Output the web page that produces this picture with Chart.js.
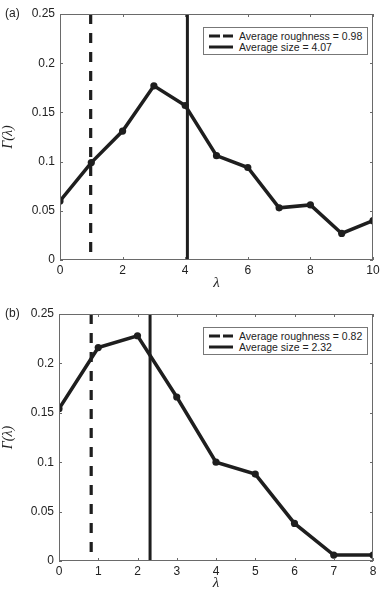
<!DOCTYPE html>
<html>
<head>
<meta charset="utf-8">
<script src="https://cdn.jsdelivr.net/npm/chart.js@4/dist/chart.umd.min.js"></script>
<style>
  body { margin: 0; background: #fff; font-family: "Liberation Sans", Arial, sans-serif; }
  .panel { position: relative; width: 388px; height: 300px; }
  .tag { position: absolute; left: 5px; top: 6px; font-size: 12px; color: #222; }
  .legend {
    position: absolute; left: 203px; top: 27px; width: 163px; height: 26px;
    border: 1px solid #777; background: #fff; font-size: 10.5px; color: #222;
  }
  .legend .row { position: absolute; left: 4px; height: 12px; line-height: 12px; }
  .legend svg { position: absolute; left: 0; top: 3px; }
  .legend span { position: absolute; left: 31px; white-space: nowrap; }
</style>
</head>
<body>
<div class="panel">
  <canvas id="chartA" width="388" height="300"></canvas>
  <div class="tag">(a)</div>
  <div class="legend" id="legendA"></div>
</div>
<div class="panel">
  <canvas id="chartB" width="388" height="300"></canvas>
  <div class="tag">(b)</div>
  <div class="legend" id="legendB"></div>
</div>
<script>
// panel (a)
const lambdaA = [0, 1, 2, 3, 4, 5, 6, 7, 8, 9, 10];
const gammaA = [0.060, 0.099, 0.131, 0.177, 0.157, 0.106, 0.094, 0.053, 0.056, 0.027, 0.040];
const roughnessA = 0.98;
const sizeA = 4.07;
const xTicksA = [0, 2, 4, 6, 8, 10];

// panel (b)
const lambdaB = [0, 1, 2, 3, 4, 5, 6, 7, 8];
const gammaB = [0.154, 0.216, 0.228, 0.166, 0.100, 0.088, 0.038, 0.006, 0.006];
const roughnessB = 0.82;
const sizeB = 2.32;
const xTicksB = [0, 1, 2, 3, 4, 5, 6, 7, 8];

const yTicks = [0, 0.05, 0.1, 0.15, 0.2, 0.25];

const ink = "#1e1e1e";
const axisGrey = "#6a6a6a";

// box round the plot and MATLAB style inward ticks
const framePlugin = {
  id: "frame",
  afterDatasetsDraw(chart) {
    const { ctx, chartArea: a, scales } = chart;
    ctx.save();
    ctx.strokeStyle = axisGrey;
    ctx.lineWidth = 1;
    ctx.strokeRect(a.left + 0.5, a.top + 0.5, a.right - a.left - 1, a.bottom - a.top - 1);
    ctx.beginPath();
    scales.x.ticks.forEach((t) => {
      const px = Math.round(scales.x.getPixelForValue(t.value)) + 0.5;
      ctx.moveTo(px, a.bottom); ctx.lineTo(px, a.bottom - 3);
      ctx.moveTo(px, a.top); ctx.lineTo(px, a.top + 3);
    });
    scales.y.ticks.forEach((t) => {
      const py = Math.round(scales.y.getPixelForValue(t.value)) + 0.5;
      ctx.moveTo(a.left, py); ctx.lineTo(a.left + 3, py);
      ctx.moveTo(a.right, py); ctx.lineTo(a.right - 3, py);
    });
    ctx.stroke();
    ctx.restore();
  },
};

function legendHtml(roughness, size) {
  return (
    '<div class="row" style="top:2px"><svg width="26" height="6"><line x1="1" y1="3" x2="25" y2="3" stroke="' + ink + '" stroke-width="3" stroke-dasharray="11,3"/></svg>' +
    "<span>Average roughness = " + roughness.toFixed(2) + "</span></div>" +
    '<div class="row" style="top:13px"><svg width="26" height="6"><line x1="1" y1="3" x2="25" y2="3" stroke="' + ink + '" stroke-width="3"/></svg>' +
    "<span>Average size = " + size.toFixed(2) + "</span></div>"
  );
}

function makeChart(canvasId, lambdas, gammas, roughness, size, xTicks, xAxisHeight, yAxisWidth) {
  const points = lambdas.map((x, i) => ({ x: x, y: gammas[i] }));
  const yMax = yTicks[yTicks.length - 1];

  return new Chart(document.getElementById(canvasId), {
    type: "scatter",
    data: {
      datasets: [
        {
          data: [{ x: roughness, y: yMax }, { x: roughness, y: 0 }],
          showLine: true,
          borderColor: ink,
          borderWidth: 3.2,
          borderDash: [10, 9],
          pointRadius: 0,
        },
        {
          data: [{ x: size, y: yMax }, { x: size, y: 0 }],
          showLine: true,
          borderColor: ink,
          borderWidth: 3,
          pointRadius: 0,
        },
        {
          data: points,
          showLine: true,
          borderColor: ink,
          borderWidth: 3.5,
          pointRadius: 3.6,
          pointBackgroundColor: ink,
          pointBorderColor: ink,
          pointBorderWidth: 0,
        },
      ],
    },
    options: {
      responsive: false,
      animation: false,
      devicePixelRatio: 1,
      layout: { padding: { left: 0, right: 15, top: 14, bottom: 0 } },
      plugins: { legend: { display: false }, tooltip: { enabled: false } },
      scales: {
        x: {
          type: "linear",
          min: xTicks[0],
          max: xTicks[xTicks.length - 1],
          afterBuildTicks: (scale) => {
            scale.ticks = xTicks.map((v) => ({ value: v }));
          },
          afterFit: (scale) => {
            scale.height = xAxisHeight;
          },
          grid: { display: false, drawTicks: false },
          border: { display: false },
          ticks: {
            color: "#222",
            padding: 3,
            font: { family: "Liberation Sans", size: 12 },
            callback: (v) => String(v),
          },
          title: {
            display: true,
            text: "λ",
            color: "#222",
            padding: { top: 0, bottom: 8 },
            font: { family: "Liberation Serif", size: 15, style: "italic" },
          },
        },
        y: {
          min: yTicks[0],
          max: yMax,
          afterBuildTicks: (scale) => {
            scale.ticks = yTicks.map((v) => ({ value: v }));
          },
          afterFit: (scale) => {
            scale.width = yAxisWidth;
          },
          grid: { display: false, drawTicks: false },
          border: { display: false },
          ticks: {
            color: "#222",
            padding: 5,
            font: { family: "Liberation Sans", size: 12 },
            callback: (v) => String(v),
          },
          title: {
            display: true,
            text: "Γ(λ)",
            color: "#222",
            padding: { top: 0, bottom: 0 },
            font: { family: "Liberation Serif", size: 14, style: "italic" },
          },
        },
      },
    },
    plugins: [framePlugin],
  });
}

makeChart("chartA", lambdaA, gammaA, roughnessA, sizeA, xTicksA, 40, 60);
makeChart("chartB", lambdaB, gammaB, roughnessB, sizeB, xTicksB, 39, 59);
document.getElementById("legendA").innerHTML = legendHtml(roughnessA, sizeA);
document.getElementById("legendB").innerHTML = legendHtml(roughnessB, sizeB);
</script>
</body>
</html>
